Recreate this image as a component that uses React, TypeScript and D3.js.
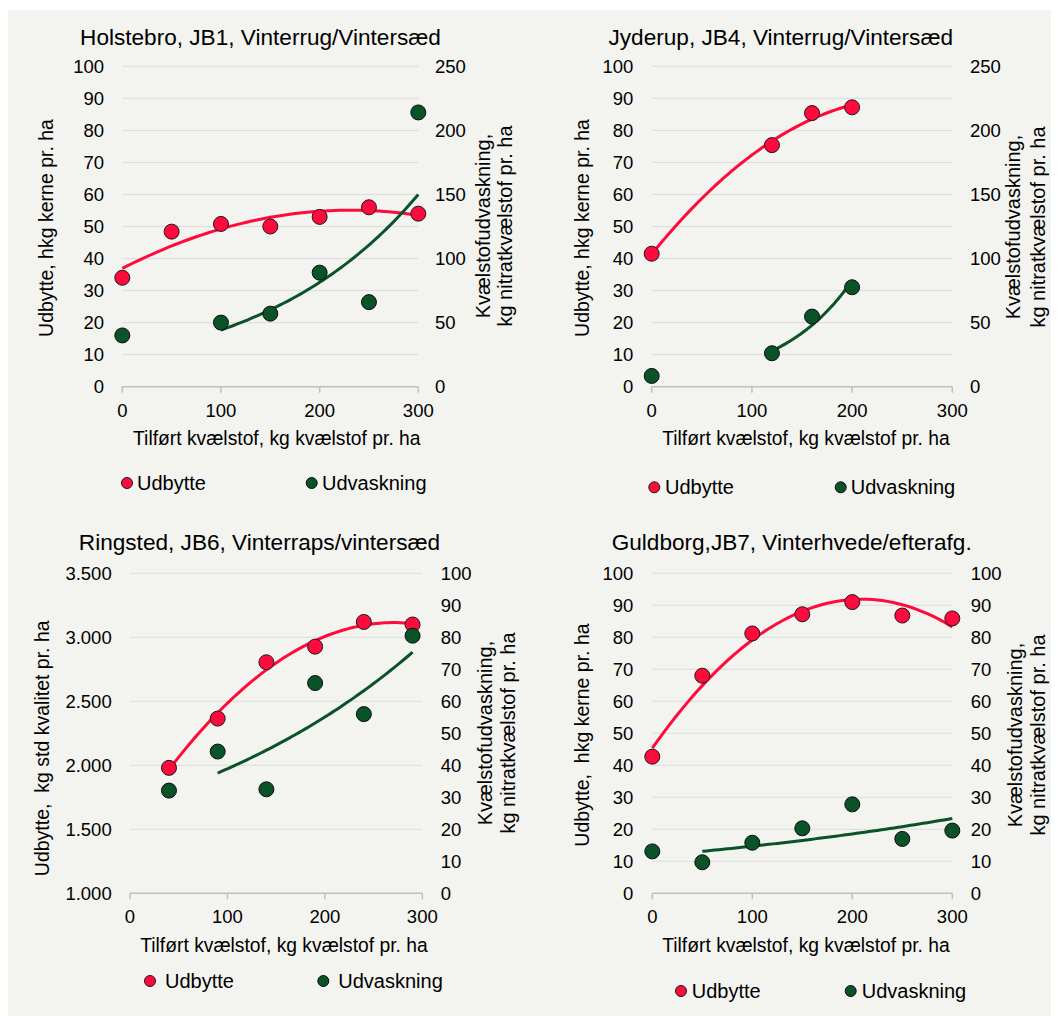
import React from 'react'
import * as d3 from 'd3'

// Holstebro, JB1
const holstebroN = [0, 50, 100, 150, 200, 250, 300]
const holstebroUdbytte = [34, 48.4, 50.8, 50, 53, 56, 54]
const holstebroUdvN = [0, 100, 150, 200, 250, 300]
const holstebroUdv = [40, 50, 57, 89, 66, 214]

// Jyderup, JB4
const jyderupN = [0, 120, 160, 200]
const jyderupUdbytte = [41.5, 75.4, 85.4, 87.2]
const jyderupUdvN = [0, 120, 160, 200]
const jyderupUdv = [8.4, 26.1, 54.7, 77.6]

// Ringsted, JB6 (kg std kvalitet)
const ringstedN = [40, 90, 140, 190, 240, 290]
const ringstedUdbytte = [1980, 2365, 2805, 2927, 3120, 3100]
const ringstedUdvN = [40, 90, 140, 190, 240, 290]
const ringstedUdv = [32.1, 44.3, 32.5, 65.7, 56, 80.5]

// Guldborg, JB7
const guldborgN = [0, 50, 100, 150, 200, 250, 300]
const guldborgUdbytte = [42.7, 68, 81.2, 87.2, 91, 86.8, 85.9]
const guldborgUdvN = [0, 50, 100, 150, 200, 250, 300]
const guldborgUdv = [13.1, 9.7, 15.8, 20.3, 27.8, 17, 19.6]

// leaching trend lines only start from these N levels
const udvTrendFrom = [100, 120, 90, 50]

const xTicks = [0, 100, 200, 300]
const kgTicks = [0, 10, 20, 30, 40, 50, 60, 70, 80, 90, 100]
const udvTicks250 = [0, 50, 100, 150, 200, 250]
const stdTicks = [1000, 1500, 2000, 2500, 3000, 3500]

const titles = [
  'Holstebro, JB1, Vinterrug/Vintersæd',
  'Jyderup, JB4, Vinterrug/Vintersæd',
  'Ringsted, JB6, Vinterraps/vintersæd',
  'Guldborg,JB7, Vinterhvede/efterafg.',
]

const RED = '#ff0a3c'
const GREEN = '#0a5228'
const FONT = '"Liberation Sans", Arial, sans-serif'
const dk = d3.formatLocale({ decimal: ',', thousands: '.', grouping: [3], currency: ['', ' kr'] })

// Excel style polynomial (order 2) trendline
function quadFit(xs: number[], ys: number[]) {
  const n = xs.length
  let s1 = 0, s2 = 0, s3 = 0, s4 = 0, t0 = 0, t1 = 0, t2 = 0
  for (let i = 0; i < n; i++) {
    const x = xs[i], y = ys[i]
    s1 += x; s2 += x * x; s3 += x * x * x; s4 += x * x * x * x
    t0 += y; t1 += x * y; t2 += x * x * y
  }
  const m = [[n, s1, s2, t0], [s1, s2, s3, t1], [s2, s3, s4, t2]]
  for (let c = 0; c < 3; c++) {
    for (let r = c + 1; r < 3; r++) {
      const f = m[r][c] / m[c][c]
      for (let k = c; k < 4; k++) m[r][k] -= f * m[c][k]
    }
  }
  const a = [0, 0, 0]
  for (let r = 2; r >= 0; r--) {
    let s = m[r][3]
    for (let k = r + 1; k < 3; k++) s -= m[r][k] * a[k]
    a[r] = s / m[r][r]
  }
  return (x: number) => a[0] + a[1] * x + a[2] * x * x
}

// Excel style exponential trendline
function expFit(xs: number[], ys: number[]) {
  const ly = ys.map(Math.log)
  const mx = d3.mean(xs)!, my = d3.mean(ly)!
  let sxy = 0, sxx = 0
  xs.forEach((x, i) => { sxy += (x - mx) * (ly[i] - my); sxx += (x - mx) * (x - mx) })
  const b = sxy / sxx
  const a = Math.exp(my - b * mx)
  return (x: number) => a * Math.exp(b * x)
}

const panels = [
  {
    n: holstebroN, udb: holstebroUdbytte, udvN: holstebroUdvN, udv: holstebroUdv,
    left: [0, 100], leftTicks: kgTicks, right: [0, 250], rightTicks: udvTicks250,
    leftLabel: 'Udbytte, hkg kerne pr. ha',
    box: { x0: 122.3, x1: 418.3, y0: 66.3, y1: 386.7 },
    titleX: 260.5, titleY: 45, leftTickX: 104, rightTickX: 435,
    leftLab: [45.7, 228], rightLab: [483, 505, 226],
    xTickY: 416.7, xLab: [276.8, 445],
    legend: { y: 483, m1: 127, t1: 137, m2: 311.7, t2: 322 },
  },
  {
    n: jyderupN, udb: jyderupUdbytte, udvN: jyderupUdvN, udv: jyderupUdv,
    left: [0, 100], leftTicks: kgTicks, right: [0, 250], rightTicks: udvTicks250,
    leftLabel: 'Udbytte, hkg kerne pr. ha',
    box: { x0: 651.7, x1: 952.3, y0: 66.3, y1: 386.7 },
    titleX: 780.8, titleY: 45, leftTickX: 633.3, rightTickX: 970,
    leftLab: [581.7, 228], rightLab: [1013, 1038, 227],
    xTickY: 416.7, xLab: [806, 445],
    legend: { y: 487.3, m1: 654.3, t1: 665, m2: 840.7, t2: 850.7 },
  },
  {
    n: ringstedN, udb: ringstedUdbytte, udvN: ringstedUdvN, udv: ringstedUdv,
    left: [1000, 3500], leftTicks: stdTicks, right: [0, 100], rightTicks: kgTicks,
    leftLabel: 'Udbytte,  kg std kvalitet pr. ha',
    box: { x0: 130, x1: 422.3, y0: 573.3, y1: 893.3 },
    titleX: 259.5, titleY: 550, leftTickX: 111.7, rightTickX: 440.7,
    leftLab: [42.3, 748.3], rightLab: [485, 508.3, 733],
    xTickY: 923.3, xLab: [284, 951.7],
    legend: { y: 981, m1: 150, t1: 165, m2: 323.3, t2: 338.3 },
  },
  {
    n: guldborgN, udb: guldborgUdbytte, udvN: guldborgUdvN, udv: guldborgUdv,
    left: [0, 100], leftTicks: kgTicks, right: [0, 100], rightTicks: kgTicks,
    leftLabel: 'Udbytte,  hkg kerne pr. ha',
    box: { x0: 652.3, x1: 952.3, y0: 573.3, y1: 893.3 },
    titleX: 791.7, titleY: 550, leftTickX: 633.3, rightTickX: 970.7,
    leftLab: [581.7, 735], rightLab: [1015, 1038.3, 735],
    xTickY: 923.3, xLab: [806, 951.7],
    legend: { y: 991, m1: 681, t1: 691.7, m2: 850.7, t2: 861.7 },
  },
]

function Panel({ p, idx }: { p: any; idx: number }) {
  const { box } = p
  const x = d3.scaleLinear().domain([0, 300]).range([box.x0, box.x1])
  const yL = d3.scaleLinear().domain(p.left).range([box.y1, box.y0])
  const yR = d3.scaleLinear().domain(p.right).range([box.y1, box.y0])
  const fmt = p.left[1] > 1000 ? dk.format(',') : dk.format('d')

  // trend lines
  const qf = quadFit(p.n, p.udb)
  const qFrom = d3.min(p.n) as number, qTo = d3.max(p.n) as number
  const qLine = d3.line<number>().x(v => x(v)).y(v => yL(qf(v)))
  const qPts = d3.range(0, 61).map(i => qFrom + (qTo - qFrom) * i / 60)

  const from = udvTrendFrom[idx]
  const eX = p.udvN.filter((v: number) => v >= from)
  const eY = p.udv.filter((_: number, i: number) => p.udvN[i] >= from)
  const ef = expFit(eX, eY)
  const eTo = d3.max(eX) as number
  const eLine = d3.line<number>().x(v => x(v)).y(v => yR(ef(v)))
  const ePts = d3.range(0, 61).map(i => from + (eTo - from) * i / 60)

  const lg = p.legend
  return (
    <g fontFamily={FONT} fill="#000">
      <text x={p.titleX} y={p.titleY} textAnchor="middle" fontSize={22.6}>{titles[idx]}</text>

      {p.leftTicks.map((t: number) => (
        <line key={'g' + t} x1={box.x0} x2={box.x1} y1={yL(t)} y2={yL(t)}
          stroke={t === p.left[0] ? '#bfbfbf' : '#dcdcdc'} strokeWidth={t === p.left[0] ? 1.5 : 1} />
      ))}
      {xTicks.map(t => (
        <line key={'xt' + t} x1={x(t)} x2={x(t)} y1={box.y1} y2={box.y1 + 6} stroke="#bfbfbf" strokeWidth={1.5} />
      ))}

      {p.leftTicks.map((t: number) => (
        <text key={'l' + t} x={p.leftTickX} y={yL(t)} dy="0.36em" textAnchor="end" fontSize={18.5}>{fmt(t)}</text>
      ))}
      {p.rightTicks.map((t: number) => (
        <text key={'r' + t} x={p.rightTickX} y={yR(t)} dy="0.36em" textAnchor="start" fontSize={18.5}>{t}</text>
      ))}
      {xTicks.map(t => (
        <text key={'x' + t} x={x(t)} y={p.xTickY} textAnchor="middle" fontSize={18.5}>{t}</text>
      ))}

      <text transform={`translate(${p.leftLab[0]},${p.leftLab[1]}) rotate(-90)`} dy="0.35em"
        textAnchor="middle" fontSize={19.5} style={{ whiteSpace: 'pre' }}>{p.leftLabel}</text>
      <text transform={`translate(${p.rightLab[0]},${p.rightLab[2]}) rotate(-90)`} dy="0.35em"
        textAnchor="middle" fontSize={20}>Kvælstofudvaskning,</text>
      <text transform={`translate(${p.rightLab[1]},${p.rightLab[2]}) rotate(-90)`} dy="0.35em"
        textAnchor="middle" fontSize={20}>kg nitratkvælstof pr. ha</text>
      <text x={p.xLab[0]} y={p.xLab[1]} textAnchor="middle" fontSize={19.3}>Tilført kvælstof, kg kvælstof pr. ha</text>

      <path d={qLine(qPts) || ''} fill="none" stroke={RED} strokeWidth={3} />
      <path d={eLine(ePts) || ''} fill="none" stroke={GREEN} strokeWidth={3} />

      {p.n.map((v: number, i: number) => (
        <circle key={'u' + i} cx={x(v)} cy={yL(p.udb[i])} r={7.5} fill={RED} stroke="#1a1a1a" strokeWidth={1} />
      ))}
      {p.udvN.map((v: number, i: number) => (
        <circle key={'v' + i} cx={x(v)} cy={yR(p.udv[i])} r={7.5} fill={GREEN} stroke="#0d0d0d" strokeWidth={1} />
      ))}

      <circle cx={lg.m1} cy={lg.y} r={5.5} fill={RED} stroke="#1a1a1a" strokeWidth={1} />
      <text x={lg.t1} y={lg.y + 7} fontSize={20}>Udbytte</text>
      <circle cx={lg.m2} cy={lg.y} r={5.5} fill={GREEN} stroke="#0d0d0d" strokeWidth={1} />
      <text x={lg.t2} y={lg.y + 7} fontSize={20}>Udvaskning</text>
    </g>
  )
}

export default function App() {
  return (
    <svg width={1051} height={1008} style={{ display: 'block' }}>
      <g transform="translate(-8,-8)">
        <rect x={8} y={10} width={1051} height={1006} fill="#f3f3ef" />
        {panels.map((p, i) => <Panel key={i} p={p} idx={i} />)}
      </g>
    </svg>
  )
}
